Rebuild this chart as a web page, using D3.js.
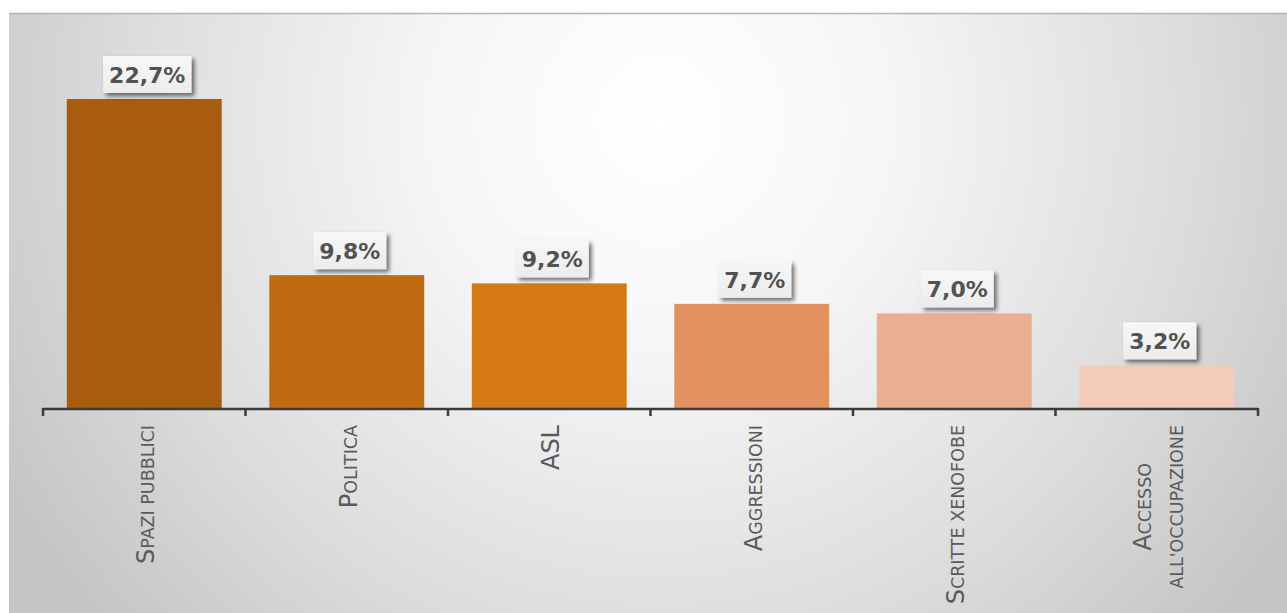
<!DOCTYPE html>
<html>
<head>
<meta charset="utf-8">
<script src="https://cdn.jsdelivr.net/npm/d3@7/dist/d3.min.js"></script>
<style>
  html, body { margin: 0; padding: 0; background: #ffffff; }
  svg { display: block; }
</style>
</head>
<body>
<svg id="chart" width="1287" height="613"></svg>
<script>
// ---- data ----
const categories = ["Spazi pubblici", "Politica", "ASL", "Aggressioni", "Scritte xenofobe", "Accesso\nall'occupazione"];
const values = [22.7, 9.8, 9.2, 7.7, 7.0, 3.2];
const valueLabels = ["22,7%", "9,8%", "9,2%", "7,7%", "7,0%", "3,2%"];
const barColors = ["#a75c0e", "#c06b14", "#d57916", "#e3925f", "#eaae93", "#f3cbb8"];

// ---- layout ----
const W = 1287, H = 613;
const axisLeft = 43, axisRight = 1258, baseY = 409;
const svg = d3.select("#chart");
const defs = svg.append("defs");

// background gradient
const rg = defs.append("radialGradient").attr("id", "bg")
  .attr("gradientUnits", "userSpaceOnUse")
  .attr("cx", 660).attr("cy", 120).attr("r", 760);
rg.append("stop").attr("offset", 0).attr("stop-color", "#ffffff");
rg.append("stop").attr("offset", 0.3).attr("stop-color", "#f6f6f6");
rg.append("stop").attr("offset", 0.7).attr("stop-color", "#dcdcdc");
rg.append("stop").attr("offset", 1).attr("stop-color", "#c4c4c4");

const sh = defs.append("filter").attr("id", "shadow")
  .attr("x", "-30%").attr("y", "-30%").attr("width", "160%").attr("height", "160%");
sh.append("feDropShadow").attr("dx", 3).attr("dy", 3).attr("stdDeviation", 2)
  .attr("flood-color", "#000").attr("flood-opacity", 0.55);

const lg = defs.append("linearGradient").attr("id", "boxfill")
  .attr("x1", 0).attr("y1", 0).attr("x2", 0).attr("y2", 1);
lg.append("stop").attr("offset", 0).attr("stop-color", "#f7f7f7");
lg.append("stop").attr("offset", 1).attr("stop-color", "#ececec");

svg.append("rect").attr("x", 9).attr("y", 13).attr("width", W - 9).attr("height", H - 13)
  .attr("fill", "url(#bg)");
svg.append("line").attr("x1", 9).attr("x2", W).attr("y1", 13.5).attr("y2", 13.5)
  .attr("stroke", "#b4b4b4").attr("stroke-width", 1.5);

// ---- scales ----
const x = d3.scaleBand().domain(categories).range([axisLeft, axisRight])
  .paddingInner(0.235).paddingOuter(0.1175);
const y = d3.scaleLinear().domain([0, 22.7]).range([baseY, 99]);

// bars
svg.append("g").selectAll("rect").data(categories).join("rect")
  .attr("x", d => x(d))
  .attr("width", x.bandwidth())
  .attr("y", (d, i) => y(values[i]))
  .attr("height", (d, i) => baseY - y(values[i]))
  .attr("fill", (d, i) => barColors[i]);

// axis with ticks at band edges
const axisG = svg.append("g");
axisG.append("line").attr("x1", axisLeft).attr("x2", axisRight)
  .attr("y1", baseY).attr("y2", baseY).attr("stroke", "#3b3b3b").attr("stroke-width", 2.5);
axisG.selectAll("line.tick").data([axisLeft].concat(categories.map((d, i) => axisLeft + x.step() * (i + 1))))
  .join("line").attr("class", "tick")
  .attr("x1", d => d).attr("x2", d => d)
  .attr("y1", baseY - 1).attr("y2", baseY + 7)
  .attr("stroke", "#3b3b3b").attr("stroke-width", 2.5);

// value labels
const vg = svg.append("g").selectAll("g").data(categories).join("g")
  .attr("transform", (d, i) => `translate(${x(d) + x.bandwidth() / 2 + 3},${y(values[i]) - 24})`);
vg.each(function (d, i) {
  const g = d3.select(this);
  const t = g.append("text").text(valueLabels[i])
    .attr("text-anchor", "middle").attr("dy", "0.36em")
    .attr("font-family", "DejaVu Sans").attr("font-weight", "bold")
    .attr("font-size", 22).attr("fill", "#525252");
  const w = t.node().getComputedTextLength();
  g.insert("rect", "text")
    .attr("x", -w / 2 - 6).attr("y", -19).attr("width", w + 12).attr("height", 37)
    .attr("fill", "url(#boxfill)").attr("filter", "url(#shadow)");
});

// category labels (small caps, rotated)
const bigSize = 24, smallSize = 17.5, lineGap = 32, labelTop = 425, baseOffset = 10;
function smallCaps(textSel, str) {
  const runs = [];
  for (const ch of str) {
    const isBig = ch !== ch.toLowerCase();
    const last = runs[runs.length - 1];
    if (last && last.big === isBig) last.s += ch; else runs.push({ big: isBig, s: ch });
  }
  runs.forEach(r => textSel.append("tspan")
    .attr("font-size", r.big ? bigSize : smallSize)
    .text(r.s.toUpperCase()));
}
const lab = svg.append("g").selectAll("g").data(categories).join("g");
lab.each(function (d) {
  const g = d3.select(this);
  const lines = d.split("\n");
  const cx = x(d) + x.bandwidth() / 2;
  const inner = g.append("g");
  const texts = lines.map((ln, k) => {
    const t = inner.append("text")
      .attr("font-family", "DejaVu Sans").attr("fill", "#5a5a5a")
      .attr("text-anchor", "middle")
      .attr("y", (k - (lines.length - 1) / 2) * lineGap + baseOffset);
    smallCaps(t, ln);
    return t;
  });
  const maxLen = d3.max(texts, t => t.node().getComputedTextLength());
  inner.attr("transform", `translate(${cx},${labelTop + maxLen / 2}) rotate(-90)`);
});
</script>
</body>
</html>
